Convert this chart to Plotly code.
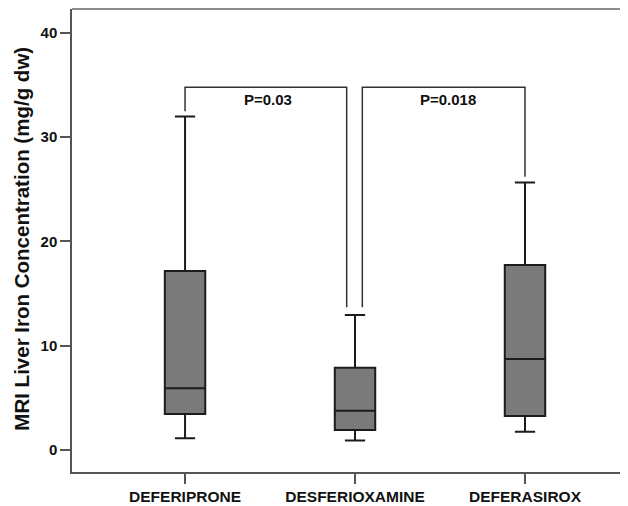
import plotly.graph_objects as go

categories = ["DEFERIPRONE", "DESFERIOXAMINE", "DEFERASIROX"]
lower_whisker = [1.12, 0.9, 1.76]
q1 = [3.45, 1.92, 3.26]
median = [5.92, 3.77, 8.73]
q3 = [17.18, 7.9, 17.75]
upper_whisker = [32.0, 12.96, 25.65]

y_ticks = [0, 10, 20, 30, 40]
p_labels = ["P=0.03", "P=0.018"]
bracket_top = 34.8
bracket_legs = [(32.5, 13.7), (13.7, 26.2)]
label_y = 33.66

FONT = "Liberation Sans, Arial, sans-serif"

fig = go.Figure()
fig.add_trace(go.Box(
    x=categories,
    q1=q1, median=median, q3=q3,
    lowerfence=lower_whisker, upperfence=upper_whisker,
    fillcolor="#7a7a7a",
    line=dict(color="#1c1c1c", width=2),
    width=0.238,
    whiskerwidth=0.5,
    boxpoints=False,
    showlegend=False,
    hoverinfo="skip",
))

bx = [(0.0, 0.951), (1.043, 2.0)]
for (xl, xr), (yl, yr) in zip(bx, bracket_legs):
    fig.add_shape(type="path",
                  path=f"M {xl} {yl} L {xl} {bracket_top} L {xr} {bracket_top} L {xr} {yr}",
                  xref="x", yref="y",
                  line=dict(color="#333333", width=1.5))

label_x = [0.486, 1.547]
for lx, txt in zip(label_x, p_labels):
    fig.add_annotation(x=lx, y=label_y, xref="x", yref="y", text=f"<b>{txt}</b>",
                       showarrow=False, font=dict(family=FONT, size=15, color="#111111"),
                       xanchor="center", yanchor="middle")

fig.add_shape(type="line", xref="paper", yref="paper", x0=0, x1=1, y0=1, y1=1,
              line=dict(color="#666666", width=1.5))

fig.add_annotation(xref="paper", yref="paper", x=0, y=0.504, xshift=-50,
                   text="<b>MRI Liver Iron Concentration (mg/g dw)</b>", textangle=-90,
                   showarrow=False, font=dict(family=FONT, size=20.5, color="#111111"),
                   xanchor="center", yanchor="middle")

# page body has an 8px default margin; compensate so the plot lands where the reference has it
fig.update_layout(
    width=620, height=498,
    margin=dict(l=64, r=0, t=1, b=34),
    paper_bgcolor="white", plot_bgcolor="white",
    font=dict(family=FONT, color="#111111"),
    xaxis=dict(
        type="category",
        categoryorder="array", categoryarray=categories,
        range=[-0.665, 2.606],
        showline=True, linecolor="#555555", linewidth=1.5,
        ticks="outside", ticklen=10, tickcolor="#555555", tickwidth=1.5,
        tickfont=dict(family=FONT, size=15.5, weight="bold", color="#111111"),
        showgrid=False, zeroline=False,
    ),
    yaxis=dict(
        range=[-2.11, 42.3],
        tickvals=y_ticks,
        showline=True, linecolor="#555555", linewidth=1.5,
        ticks="outside", ticklen=10, tickcolor="#555555", tickwidth=1.5,
        tickfont=dict(family=FONT, size=15, weight="bold", color="#111111"),
        showgrid=False, zeroline=False,
    ),
)

fig.write_html("out.html")
